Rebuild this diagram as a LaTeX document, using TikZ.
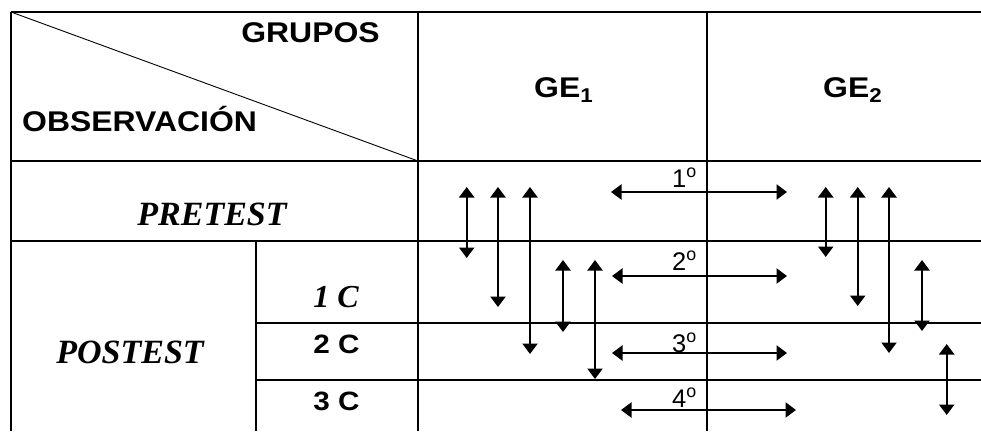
\documentclass[tikz,border=0pt]{standalone}
\usepackage{fontspec}
\setmainfont{Liberation Serif}
\newfontfamily\hs[FakeStretch=1.12]{Liberation Sans}
\newfontfamily\hr{Liberation Sans}
\usetikzlibrary{arrows.meta}
\begin{document}
\begin{tikzpicture}[x=1pt,y=-1pt,
  grid/.style={line width=1.8pt},
  diag/.style={line width=0.9pt},
  darr/.style={line width=2.3pt,{Triangle[width=15pt,length=10.5pt]}-{Triangle[width=15pt,length=10.5pt]}},
  hb/.style={font=\hs\bfseries\fontsize{28.5}{30}\selectfont,inner sep=0pt},
  hc/.style={font=\hs\bfseries\fontsize{26.5}{28}\selectfont,inner sep=0pt},
  ord/.style={font=\hr\fontsize{25.5}{27}\selectfont,inner sep=0pt},
  sbi/.style={font=\bfseries\itshape\fontsize{34}{36}\selectfont,inner sep=0pt},
  sbc/.style={font=\bfseries\itshape\fontsize{32}{34}\selectfont,inner sep=0pt}]
\useasboundingbox (0,0) rectangle (981,431);
% table
\draw[grid] (11,12) -- (981,12);
\draw[grid] (11,12) -- (11,431);
\draw[grid] (418,12) -- (418,431);
\draw[grid] (707,12) -- (707,431);
\draw[grid] (11,161) -- (981,161);
\draw[grid] (11,241) -- (981,241);
\draw[grid] (256,323) -- (981,323);
\draw[grid] (256,380) -- (981,380);
\draw[grid] (256,241) -- (256,431);
\draw[diag] (11,12) -- (418,161);
% header texts
\node[hb,anchor=base] (grupos) at (310.5,42) {GRUPOS};
\node[hb,anchor=base west] (obs) at (22,131.5) {OBSERVACIÓN};
\node[hb,anchor=base west] (ge1) at (534,97.5) {GE\textsubscript{1}};
\node[hb,anchor=base west] (ge2) at (823,97.5) {GE\textsubscript{2}};
% row labels
\node[sbi,anchor=base] (pre) at (212,225) {PRETEST};
\node[sbi,anchor=base] (post) at (130,363) {POSTEST};
\node[sbc,anchor=base] (c1) at (336,307) {1 C};
\node[hc,anchor=base] (c2) at (336.5,353) {2 C};
\node[hc,anchor=base] (c3) at (336.5,410) {3 C};
% ordinal labels
\node[ord,anchor=base east] (o1) at (697,187) {1\textsuperscript{o}};
\node[ord,anchor=base east] (o2) at (697,270) {2\textsuperscript{o}};
\node[ord,anchor=base east] (o3) at (697,352) {3\textsuperscript{o}};
\node[ord,anchor=base east] (o4) at (697,407) {4\textsuperscript{o}};
% horizontal arrows
\draw[darr] (611,192) -- (787,192);
\draw[darr] (612,276) -- (787,276);
\draw[darr] (612,353) -- (787,353);
\draw[darr] (621,410) -- (796,410);
% GE1 vertical arrows
\draw[darr] (466.7,187) -- (466.7,258);
\draw[darr] (498,187) -- (498,307);
\draw[darr] (530,187) -- (530,354);
\draw[darr] (563,260) -- (563,332);
\draw[darr] (595,260) -- (595,379);
% GE2 vertical arrows
\draw[darr] (825.7,187) -- (825.7,257);
\draw[darr] (857.7,187) -- (857.7,306);
\draw[darr] (889,187) -- (889,353);
\draw[darr] (922,260) -- (922,331);
\draw[darr] (946.7,344) -- (946.7,415);
\end{tikzpicture}
\end{document}
